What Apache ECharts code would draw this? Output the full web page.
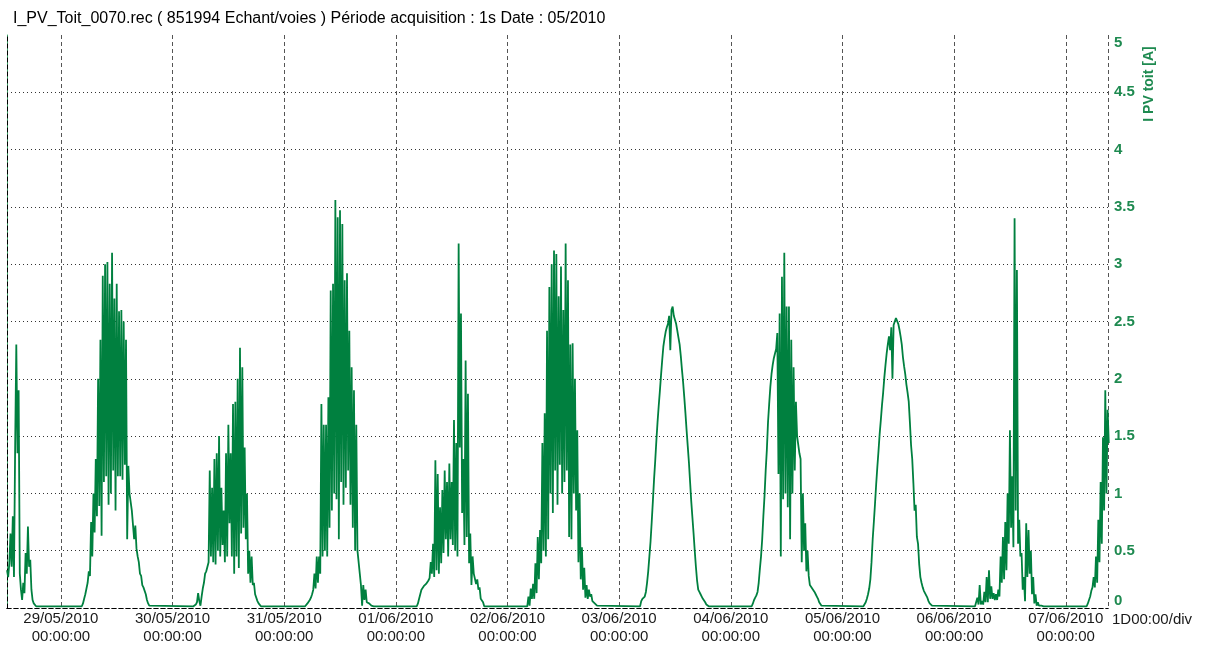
<!DOCTYPE html>
<html>
<head>
<meta charset="utf-8">
<script src="https://cdn.jsdelivr.net/npm/echarts@6/dist/echarts.min.js"></script>
<style>
  html, body { margin: 0; padding: 0; background: #fff; }
  #chart { width: 1207px; height: 651px; }
</style>
</head>
<body>
<div id="chart"></div>
<script>
// ---- chart text ----
const titleText = 'I_PV_Toit_0070.rec ( 851994 Echant/voies ) Période acquisition : 1s Date : 05/2010';
const yAxisTitle = 'I PV toit [A]';
const xDivText = '1D00:00/div';

// ---- acquisition ----
const acqStart = '2010-05-28T12:25:00';
const sampleCount = 851994;      // samples, 1 s each
const samplePeriodSec = 1;

// ---- y axis ticks ----
const yMin = 0, yMax = 5, yStep = 0.5;

// ---- per-day readings (A), one value every 15 min from the start time given ----
const stepMinutes = 15;
const dayStarts = [
  '2010-05-28T12:25:00', '2010-05-29T04:30:00', '2010-05-30T04:30:00', '2010-05-31T04:30:00',
  '2010-06-01T04:30:00', '2010-06-02T04:15:00', '2010-06-03T04:30:00', '2010-06-04T04:30:00',
  '2010-06-05T04:30:00', '2010-06-06T04:30:00', '2010-06-07T04:30:00'
];
const i0528 = [0.33, 0.27, 0.39, 0.65, 0.36, 0.8, 0.27, 1.4, 2.3, 1.35, 1.9, 0.3, 0.16, 0.07, 0.22, 0.13, 0.48, 0.3, 0.71, 0.36, 0.42, 0.16, 0.07, 0.04, 0.03, 0.015];
const i0529 = [0.015, 0.04, 0.08, 0.12, 0.17, 0.22, 0.32, 0.28, 0.75, 0.45, 1.0, 0.66, 1.3, 0.8, 2.0, 0.89, 2.34, 0.63, 2.9, 1.1, 3.0, 1.15, 3.02, 0.9, 2.83, 1.0, 3.1, 1.2, 2.7, 0.85, 2.83, 1.15, 2.59, 1.15, 2.6, 1.12, 2.5, 1.25, 2.34, 0.6, 1.24, 1.0, 1.0, 0.85, 0.85, 0.6, 0.72, 0.52, 0.45, 0.4, 0.3, 0.28, 0.2, 0.18, 0.17, 0.12, 0.07, 0.04, 0.02, 0.015];
const i0530 = [0.015, 0.015, 0.03, 0.05, 0.13, 0.06, 0.02, 0.1, 0.17, 0.22, 0.3, 0.32, 0.36, 0.4, 1.2, 0.45, 1.05, 0.4, 1.3, 0.38, 1.35, 0.5, 1.5, 0.45, 1.05, 0.55, 0.85, 0.4, 1.35, 0.45, 1.6, 0.74, 1.35, 0.45, 1.78, 0.3, 1.8, 0.45, 2.0, 0.35, 2.27, 0.65, 2.1, 0.7, 1.4, 0.6, 1.0, 0.3, 0.5, 0.22, 0.45, 0.2, 0.22, 0.12, 0.11, 0.06, 0.04, 0.03, 0.015, 0.015];
const i0531 = [0.015, 0.02, 0.04, 0.05, 0.07, 0.09, 0.12, 0.16, 0.3, 0.17, 0.45, 0.22, 0.45, 0.3, 1.78, 0.45, 1.6, 0.5, 1.6, 0.45, 1.84, 0.7, 2.77, 0.85, 2.83, 1.0, 3.56, 0.95, 3.41, 0.6, 3.47, 1.1, 3.35, 0.9, 2.86, 1.05, 2.92, 1.2, 2.42, 0.9, 2.1, 0.7, 1.9, 0.5, 1.6, 0.5, 0.5, 0.3, 0.2, 0.02, 0.2, 0.07, 0.16, 0.05, 0.06, 0.04, 0.03, 0.02, 0.015, 0.015];
const i0601 = [0.015, 0.04, 0.08, 0.12, 0.16, 0.17, 0.19, 0.2, 0.21, 0.22, 0.24, 0.26, 0.4, 0.3, 0.56, 0.27, 1.29, 0.33, 1.17, 0.3, 0.88, 0.39, 1.03, 0.48, 1.2, 0.6, 1.1, 0.45, 1.26, 0.6, 1.1, 0.55, 1.64, 0.5, 1.44, 0.45, 3.18, 1.4, 2.57, 0.83, 1.3, 0.55, 2.16, 0.62, 1.87, 0.39, 0.65, 0.2, 0.45, 0.3, 0.3, 0.21, 0.25, 0.16, 0.18, 0.08, 0.07, 0.05, 0.015, 0.015];
const i0602 = [0.015, 0.1, 0.02, 0.17, 0.08, 0.21, 0.08, 0.39, 0.13, 0.62, 0.25, 0.68, 0.39, 1.44, 0.5, 1.7, 0.45, 2.42, 0.6, 2.8, 1.0, 3.0, 0.83, 3.12, 1.2, 3.09, 0.9, 2.72, 1.25, 2.98, 1.0, 2.6, 1.1, 3.18, 1.2, 2.86, 0.62, 2.3, 0.6, 2.31, 1.0, 2.0, 0.85, 1.55, 0.4, 1.0, 0.25, 0.53, 0.16, 0.35, 0.09, 0.2, 0.08, 0.16, 0.1, 0.12, 0.06, 0.07, 0.04, 0.03, 0.02, 0.015];
const i0603 = [0.015, 0.06, 0.08, 0.09, 0.1, 0.14, 0.22, 0.32, 0.45, 0.58, 0.75, 0.93, 1.12, 1.28, 1.46, 1.62, 1.76, 1.89, 2.03, 2.16, 2.28, 2.35, 2.41, 2.45, 2.48, 2.55, 2.25, 2.6, 2.63, 2.55, 2.54, 2.48, 2.42, 2.36, 2.3, 2.2, 2.08, 1.97, 1.84, 1.7, 1.55, 1.41, 1.27, 1.1, 0.93, 0.79, 0.65, 0.5, 0.36, 0.24, 0.16, 0.14, 0.12, 0.1, 0.08, 0.07, 0.05, 0.03, 0.02, 0.015];
const i0604 = [0.015, 0.04, 0.07, 0.09, 0.11, 0.14, 0.22, 0.34, 0.45, 0.6, 0.8, 0.98, 1.2, 1.38, 1.62, 1.78, 1.93, 2.04, 2.12, 2.18, 2.22, 2.26, 2.4, 1.17, 2.57, 0.45, 2.89, 0.95, 3.1, 1.0, 2.63, 0.88, 2.63, 0.6, 2.34, 1.0, 2.1, 1.2, 1.8, 1.5, 1.5, 1.35, 1.3, 0.4, 1.0, 0.5, 0.74, 0.32, 0.5, 0.28, 0.2, 0.19, 0.17, 0.16, 0.14, 0.12, 0.1, 0.08, 0.05, 0.04, 0.02, 0.015];
const i0605 = [0.015, 0.03, 0.05, 0.08, 0.12, 0.17, 0.25, 0.4, 0.6, 0.75, 0.91, 1.08, 1.23, 1.37, 1.52, 1.64, 1.77, 1.88, 2.01, 2.12, 2.22, 2.3, 2.37, 2.25, 2.45, 2.0, 2.47, 2.5, 2.53, 2.54, 2.48, 2.43, 2.37, 2.3, 2.19, 2.11, 2.04, 1.95, 1.88, 1.8, 1.62, 1.42, 1.3, 1.09, 0.85, 0.9, 0.62, 0.56, 0.38, 0.27, 0.22, 0.18, 0.15, 0.13, 0.11, 0.09, 0.06, 0.04, 0.03, 0.02, 0.015];
const i0606 = [0.015, 0.015, 0.09, 0.03, 0.2, 0.03, 0.06, 0.03, 0.14, 0.05, 0.27, 0.05, 0.33, 0.08, 0.19, 0.08, 0.13, 0.07, 0.12, 0.07, 0.16, 0.1, 0.45, 0.22, 0.62, 0.25, 0.75, 0.33, 1.0, 0.56, 1.55, 0.7, 1.15, 0.53, 3.4, 0.85, 2.95, 0.56, 0.77, 0.45, 0.48, 0.16, 0.27, 0.06, 0.74, 0.27, 0.68, 0.3, 0.5, 0.12, 0.27, 0.04, 0.12, 0.02, 0.05, 0.02, 0.03, 0.02, 0.02, 0.015];
const i0607 = [0.015, 0.04, 0.07, 0.1, 0.15, 0.18, 0.27, 0.18, 0.45, 0.22, 0.77, 0.4, 1.1, 0.56, 1.49, 0.85, 1.9, 1.0, 1.73, 1.44];
const dayValues = [i0528, i0529, i0530, i0531, i0601, i0602, i0603, i0604, i0605, i0606, i0607];

// ---- build series data ----
const tStart = new Date(acqStart).getTime();
const tEnd = tStart + sampleCount * samplePeriodSec * 1000;
const seriesData = [];
dayValues.forEach((vals, d) => {
  const t0 = new Date(dayStarts[d]).getTime();
  vals.forEach((v, i) => seriesData.push([t0 + i * stepMinutes * 60000, v]));
});

function pad(n) { return (n < 10 ? '0' : '') + n; }
function fmtTick(v) {
  const d = new Date(v);
  return pad(d.getDate()) + '/' + pad(d.getMonth() + 1) + '/' + d.getFullYear() + '\n' +
         pad(d.getHours()) + ':' + pad(d.getMinutes()) + ':' + pad(d.getSeconds());
}

const green = '#00803f';
const labelGreen = '#1e8a50';
const font = 'Liberation Sans, Arial, sans-serif';

const chart = echarts.init(document.getElementById('chart'), null, { renderer: 'canvas' });
chart.setOption({
  animation: false,
  backgroundColor: '#ffffff',
  textStyle: { fontFamily: font },
  title: {
    text: titleText,
    left: 8, top: 6,
    textStyle: { fontSize: 16, fontWeight: 'normal', color: '#000', fontFamily: font }
  },
  grid: { left: 7, right: 99, top: 35, bottom: 43, containLabel: false, outerBoundsMode: 'none' },
  xAxis: [{
    type: 'time',
    min: tStart, max: tEnd,
    minInterval: 86400000, maxInterval: 86400000, splitNumber: 10,
    axisLine: { show: true, lineStyle: { color: '#000', width: 1, type: [4, 3] } },
    axisTick: { show: false },
    axisLabel: {
      formatter: fmtTick, color: '#1a1a1a', fontSize: 15, lineHeight: 18, margin: 2,
      fontFamily: font, hideOverlap: false
    },
    splitLine: { show: true, lineStyle: { color: '#555', width: 1, type: [4, 3] } },
    name: xDivText, nameLocation: 'end', nameGap: 4,
    nameTextStyle: { color: '#1a1a1a', fontSize: 15, fontFamily: font, align: 'left', verticalAlign: 'top', padding: [4, 0, 0, 0] }
  }, {
    type: 'value', position: 'top', min: 0, max: 1,
    axisLine: { show: true, lineStyle: { color: '#000', width: 1, type: [4, 3] } },
    axisTick: { show: false }, axisLabel: { show: false }, splitLine: { show: false }
  }],
  yAxis: [{
    type: 'value', position: 'right',
    min: yMin, max: yMax, interval: yStep,
    axisLine: { show: true, lineStyle: { color: '#3ea86b', width: 1 } },
    axisTick: { show: false },
    axisLabel: {
      color: labelGreen, fontSize: 15, fontWeight: 'bold', margin: 6, fontFamily: font,
      verticalAlignMinLabel: 'bottom', verticalAlignMaxLabel: 'top'
    },
    splitLine: { show: true, showMinLine: false, showMaxLine: false, lineStyle: { color: '#333', width: 1, type: [1, 3] } }
  }, {
    type: 'value', position: 'left', min: yMin, max: yMax,
    axisLine: { show: true, lineStyle: { color: '#000', width: 1, type: [4, 3] } },
    axisTick: { show: false }, axisLabel: { show: false }, splitLine: { show: false }
  }],
  graphic: [{
    type: 'text', x: 1149, y: 84, rotation: Math.PI / 2,
    style: { text: yAxisTitle, fill: labelGreen, font: 'bold 14px ' + font, align: 'center', verticalAlign: 'middle' }
  }],
  series: [{
    type: 'line', xAxisIndex: 0, yAxisIndex: 0,
    data: seriesData, showSymbol: false, symbol: 'none', sampling: null,
    lineStyle: { color: green, width: 1.8 }, clip: true
  }]
});
</script>
</body>
</html>
